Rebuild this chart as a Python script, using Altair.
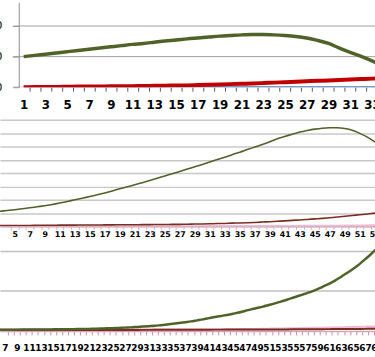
import altair as alt
import pandas as pd

# ---------------- Panel 1 (categories 1..35) ----------------
p1_cat = list(range(1, 36))
p1_green = [100, 104, 108, 112, 116, 120, 124, 128, 132, 136,
            140, 143, 147, 151, 154, 158, 161, 164, 167, 169,
            171, 172, 172, 171, 169, 166, 161, 153, 143, 128,
            114, 101, 86, 68, 48]
p1_red = [0, 0.5, 1, 1, 1.5, 2, 2, 2.5, 3, 3,
          3.5, 4, 4.5, 5, 5.5, 6, 7, 8, 9, 10,
          11, 12, 13.5, 15, 16.5, 18, 19.5, 21, 22, 23.5,
          25, 26.5, 28, 30, 32]
p1_blue = [0, 0, 0, 0, 0, 0, 0, 0, 0, 0,
           0, 0, 0, 0, 0, 0, 0, 0, 0, 0,
           0, 0, 0, 0, 0, 0, 0, 0, 0, 0,
           0, 0, 0, 0, 0]
p1_yticks = [0, 100, 200]

# ---------------- Panel 2 (categories 1..56) ----------------
p2_cat = list(range(1, 57))
p2_green = [1.02, 1.07, 1.13, 1.19, 1.25, 1.32, 1.39, 1.47, 1.55, 1.64,
            1.75, 1.87, 1.99, 2.11, 2.24, 2.37, 2.51, 2.66, 2.82, 2.97,
            3.12, 3.28, 3.44, 3.61, 3.78, 3.95, 4.12, 4.30, 4.47, 4.65,
            4.83, 5.01, 5.19, 5.38, 5.56, 5.76, 5.95, 6.14, 6.35, 6.58,
            6.75, 6.92, 7.08, 7.20, 7.30, 7.37, 7.40, 7.40, 7.35, 7.22,
            6.98, 6.70, 6.35, 5.95, 5.50, 5.00]
p2_brown = [0.05, 0.05, 0.06, 0.06, 0.07, 0.07, 0.07, 0.08, 0.08, 0.08,
            0.09, 0.09, 0.09, 0.10, 0.10, 0.10, 0.11, 0.11, 0.12, 0.12,
            0.12, 0.13, 0.13, 0.14, 0.14, 0.15, 0.15, 0.16, 0.17, 0.18,
            0.19, 0.21, 0.22, 0.24, 0.25, 0.27, 0.29, 0.32, 0.35, 0.38,
            0.41, 0.45, 0.48, 0.52, 0.56, 0.60, 0.65, 0.70, 0.76, 0.82,
            0.87, 0.93, 0.99, 1.05, 1.12, 1.19]
p2_pink = [0.01, 0.01, 0.01, 0.01, 0.01, 0.01, 0.01, 0.01, 0.01, 0.01,
           0.01, 0.01, 0.01, 0.01, 0.01, 0.01, 0.01, 0.01, 0.01, 0.01,
           0.01, 0.01, 0.01, 0.01, 0.01, 0.01, 0.01, 0.01, 0.01, 0.02,
           0.02, 0.02, 0.02, 0.02, 0.02, 0.02, 0.02, 0.03, 0.03, 0.03,
           0.03, 0.03, 0.04, 0.04, 0.04, 0.05, 0.05, 0.05, 0.06, 0.06,
           0.07, 0.07, 0.08, 0.08, 0.09, 0.10]
p2_yticks = [0, 1, 2, 3, 4, 5, 6, 7, 8]

# ---------------- Panel 3 (categories 1..72) ----------------
p3_cat = list(range(1, 73))
p3_green = [0.030, 0.030, 0.030, 0.030, 0.030, 0.031, 0.031, 0.032, 0.033, 0.034,
            0.035, 0.036, 0.037, 0.038, 0.040, 0.041, 0.043, 0.045, 0.047, 0.050,
            0.052, 0.055, 0.060, 0.065, 0.070, 0.076, 0.083, 0.090, 0.100, 0.110,
            0.120, 0.130, 0.145, 0.160, 0.180, 0.200, 0.220, 0.240, 0.265, 0.290,
            0.320, 0.350, 0.375, 0.400, 0.430, 0.460, 0.500, 0.540, 0.575, 0.610,
            0.650, 0.690, 0.735, 0.780, 0.830, 0.880, 0.930, 0.980, 1.040, 1.110,
            1.180, 1.260, 1.350, 1.450, 1.550, 1.660, 1.790, 1.920, 2.060, 2.200,
            2.360, 2.520]
p3_brown = [0.015, 0.015, 0.015, 0.015, 0.016, 0.016, 0.016, 0.017, 0.017, 0.017,
            0.018, 0.018, 0.018, 0.019, 0.019, 0.020, 0.020, 0.021, 0.021, 0.022,
            0.022, 0.023, 0.023, 0.024, 0.024, 0.025, 0.025, 0.026, 0.026, 0.027,
            0.027, 0.028, 0.028, 0.029, 0.029, 0.030, 0.030, 0.031, 0.031, 0.032,
            0.032, 0.033, 0.033, 0.034, 0.034, 0.035, 0.035, 0.036, 0.036, 0.037,
            0.037, 0.038, 0.038, 0.039, 0.040, 0.041, 0.042, 0.043, 0.044, 0.045,
            0.046, 0.047, 0.048, 0.049, 0.050, 0.051, 0.052, 0.053, 0.054, 0.055,
            0.056, 0.057]
p3_pink = [0.03, 0.03, 0.03, 0.03, 0.03, 0.03, 0.03, 0.03, 0.03, 0.03,
           0.03, 0.03, 0.03, 0.03, 0.03, 0.03, 0.03, 0.03, 0.03, 0.03,
           0.03, 0.03, 0.03, 0.03, 0.03, 0.03, 0.03, 0.03, 0.03, 0.03,
           0.03, 0.03, 0.03, 0.03, 0.03, 0.03, 0.03, 0.03, 0.03, 0.03,
           0.03, 0.03, 0.03, 0.03, 0.03, 0.035, 0.035, 0.04, 0.04, 0.045,
           0.045, 0.05, 0.05, 0.055, 0.055, 0.06, 0.06, 0.065, 0.07, 0.07,
           0.075, 0.08, 0.08, 0.085, 0.09, 0.09, 0.095, 0.10, 0.10, 0.105,
           0.11, 0.11]
p3_yticks = [0, 1, 2]


def make_df(cats, series):
    rows = []
    for name, vals in series.items():
        for c, v in zip(cats, vals):
            rows.append({"cat": c, "val": v, "series": name})
    return pd.DataFrame(rows)


def panel(df, cats, xdom, ydom, yaxis, width, height, xaxis_kw, styles, extra=None):
    xax = alt.Axis(values=cats, labelExpr="datum.value % 2 == 1 ? datum.label : ''",
                   grid=False, labelFlush=False, labelOverlap=False, title=None,
                   labelFont="DejaVu Sans", labelFontWeight="bold", labelColor="#000000",
                   **xaxis_kw)
    xs = alt.Scale(domain=xdom, nice=False, zero=False)
    ys = alt.Scale(domain=ydom, nice=False, zero=False)
    base = alt.Chart(df).encode(
        x=alt.X("cat:Q", scale=xs, axis=xax),
        y=alt.Y("val:Q", scale=ys, axis=yaxis),
    )
    layers = []
    if extra is not None:
        layers.extend(extra(xs, ys, xax, yaxis))
    for name, color, sw in styles:
        layers.append(
            base.transform_filter(alt.datum.series == name)
            .mark_line(clip=True, interpolate="monotone", color=color, strokeWidth=sw)
        )
    return alt.layer(*layers).properties(width=width, height=height)


df1 = make_df(p1_cat, {"blue": p1_blue, "red": p1_red, "green": p1_green})
df2 = make_df(p2_cat, {"pink": p2_pink, "brown": p2_brown, "green": p2_green})
df3 = make_df(p3_cat, {"pink": p3_pink, "brown": p3_brown, "green": p3_green})

# Panel 1: value axis sits half a category left of category 1; grid lines start at category 0
y1 = alt.Axis(values=p1_yticks, grid=False, domainColor="#8c8c8c", tickColor="#8c8c8c",
              tickSize=6, labelPadding=11, labelFont="DejaVu Sans", labelFontSize=11,
              labelColor="#000000", title=None, offset=-19)
p1_grid = pd.DataFrame({"val": p1_yticks})


def p1_extra(xs, ys, xax, yax):
    grid = alt.Chart(p1_grid).mark_rule(color="#a0a0a0", strokeWidth=1, clip=True).encode(
        y=alt.Y("val:Q", scale=ys, axis=yax),
        x=alt.X(datum=0, scale=xs, axis=xax),
        x2=alt.datum(40),
    )
    return [grid]


y2 = alt.Axis(values=p2_yticks, grid=True, gridColor="#c8c8c8", gridWidth=1.5,
              labels=False, ticks=False, domain=False, title=None)
y3 = alt.Axis(values=p3_yticks, grid=True, gridColor="#c0c0c0", gridWidth=1.5,
              labels=False, ticks=False, domain=False, title=None)

chart1 = panel(df1, p1_cat, [-1.176, 34.09], [0, 277.4], y1, 389, 86,
               dict(domain=False, tickColor="#595959", tickSize=4, tickOffset=5.5,
                    labelOffset=-5.5, labelPadding=9, labelFontSize=12),
               [("blue", "#4f81bd", 2), ("red", "#c00000", 4), ("green", "#4f6228", 3.5)],
               extra=p1_extra)
chart2 = panel(df2, p2_cat, [3.03, 54.21], [0, 8], y2, 389, 108,
               dict(domainColor="#d7a3b8", tickColor="#e8a6c2", tickSize=3, tickOffset=3.8,
                    labelOffset=-3.8, labelPadding=1.5, labelFontSize=8),
               [("pink", "#f2bcd6", 2), ("brown", "#7b2e20", 1.6), ("green", "#4f6228", 1.6)])
chart3 = panel(df3, p3_cat, [6.18, 70.16], [0, 2.074], y3, 389, 84,
               dict(domainColor="#d7a3b8", tickColor="#d9889f", tickSize=4, tickOffset=3.04,
                    labelOffset=-3.04, labelPadding=9, labelFontSize=9),
               [("pink", "#f2bcd6", 3), ("brown", "#7b2e20", 2), ("green", "#4f6228", 2.5)])

chart = alt.vconcat(chart1, chart2, chart3, spacing=9, bounds="full").properties(
    padding={"left": -19, "right": -15, "top": 0, "bottom": 0},
    background="#ffffff",
).configure_view(stroke=None)

chart.save("out.html", embed_options={"renderer": "svg", "actions": False})
